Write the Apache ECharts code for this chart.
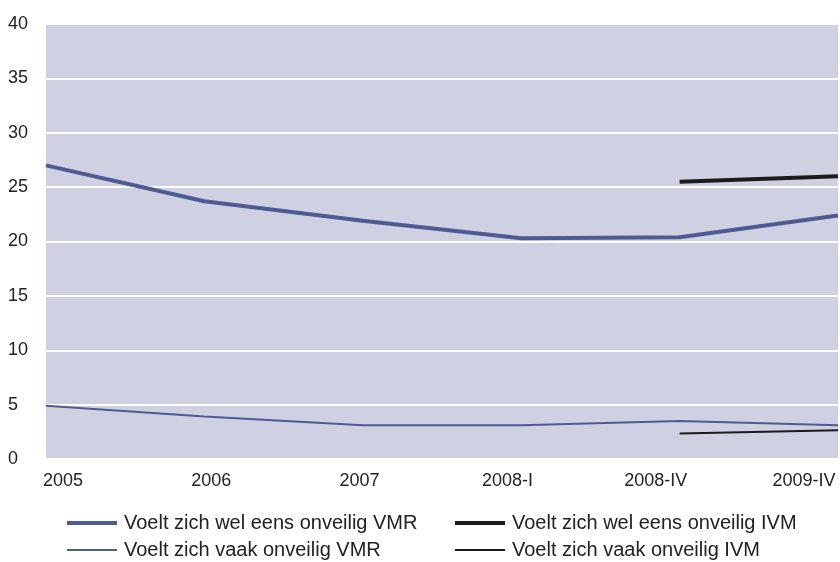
<!DOCTYPE html>
<html>
<head>
<meta charset="utf-8">
<script src="https://cdn.jsdelivr.net/npm/echarts@6/dist/echarts.min.js"></script>
<style>
  html, body { margin: 0; padding: 0; background: #fff; }
  #chart { width: 840px; height: 562px; }
</style>
</head>
<body>
<div id="chart"></div>
<script>
// categories and values
const periods = ['2005', '2006', '2007', '2008-I', '2008-IV', '2009-IV'];
const welEensVMR = [27.0, 23.7, 21.9, 20.3, 20.4, 22.4];
const vaakVMR = [4.9, 3.9, 3.1, 3.1, 3.5, 3.1];
const welEensIVM = [null, null, null, null, 25.5, 26.0];
const vaakIVM = [null, null, null, null, 2.35, 2.65];

const font = 'Liberation Sans, Arial, sans-serif';
const blue = '#4e5b93';
const black = '#1c1a1a';

let chart = echarts.init(document.getElementById('chart'));

let lineSeries = (name, data, color, width) => ({
  type: 'line',
  name: name,
  data: data,
  symbol: 'none',
  showSymbol: false,
  lineStyle: { color: color, width: width },
  itemStyle: { color: color },
  connectNulls: false,
  silent: true
});

let legendBox = (left, thick, thin) => ({
  left: left, top: 513, padding: 0, orient: 'vertical', itemWidth: 50, itemHeight: 14, itemGap: 7,
  itemStyle: { opacity: 0 },
  textStyle: { color: '#222', fontSize: 20, lineHeight: 20, fontFamily: font, padding: [0, 0, 0, 2] },
  data: [
    { name: thick, lineStyle: { width: 4 } },
    { name: thin, lineStyle: { width: 2 } }
  ]
});

chart.setOption({
  animation: false,
  textStyle: { fontFamily: font },
  grid: [
    { left: 46, right: 2, top: 24, bottom: 103, show: true, backgroundColor: '#cfd1e3', borderWidth: 0 },
    // grid only used to place the period labels as in the original
    { left: 63, right: 36, top: 24, bottom: 103, show: false }
  ],
  xAxis: [
    {
      type: 'category', gridIndex: 0, data: periods, boundaryGap: false,
      axisLine: { show: false }, axisTick: { show: false }, axisLabel: { show: false },
      splitLine: { show: false }
    },
    {
      type: 'category', gridIndex: 1, data: periods, boundaryGap: false,
      axisLine: { show: false }, axisTick: { show: false },
      axisLabel: { color: '#222', fontSize: 18, margin: 13, fontFamily: font, interval: 0 },
      splitLine: { show: false }
    }
  ],
  yAxis: [
    {
      type: 'value', gridIndex: 0, min: 0, max: 40, interval: 5,
      axisLine: { show: false }, axisTick: { show: false },
      axisLabel: { color: '#222', fontSize: 18, align: 'left', margin: 38, fontFamily: font,
                   verticalAlign: 'middle', padding: [0, 0, 12, 0] },
      splitLine: { show: true, lineStyle: { color: '#ffffff', width: 2 } }
    },
    { type: 'value', gridIndex: 1, show: false, min: 0, max: 40 }
  ],
  legend: [
    legendBox(65, 'Voelt zich wel eens onveilig VMR', 'Voelt zich vaak onveilig VMR'),
    legendBox(453, 'Voelt zich wel eens onveilig IVM', 'Voelt zich vaak onveilig IVM')
  ],
  series: [
    lineSeries('Voelt zich wel eens onveilig VMR', welEensVMR, blue, 4),
    lineSeries('Voelt zich vaak onveilig VMR', vaakVMR, blue, 2),
    lineSeries('Voelt zich wel eens onveilig IVM', welEensIVM, black, 4),
    lineSeries('Voelt zich vaak onveilig IVM', vaakIVM, black, 2)
  ]
});
</script>
</body>
</html>
